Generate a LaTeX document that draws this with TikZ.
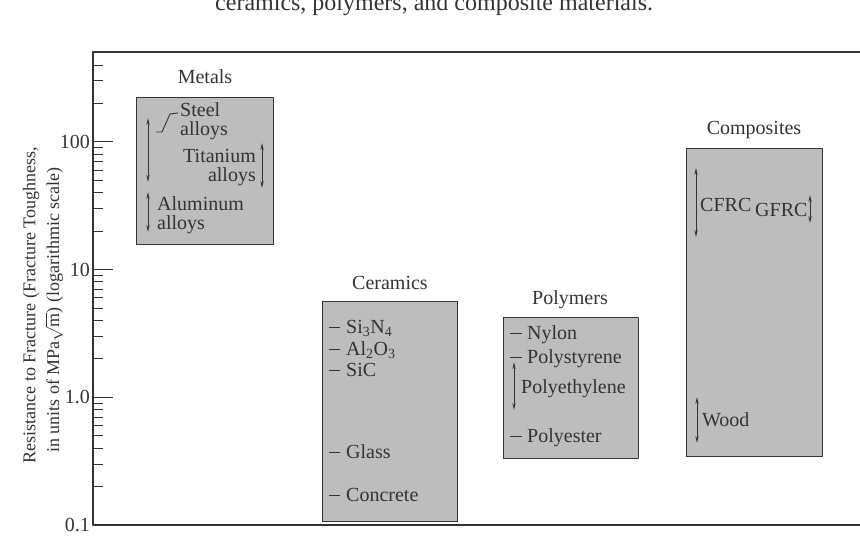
\documentclass[tikz,border=0pt]{standalone}
\usepackage{fontspec}
\setmainfont{Liberation Serif}
\usetikzlibrary{arrows.meta}
\definecolor{ink}{gray}{0.2}
\definecolor{barfill}{gray}{0.74}
\tikzset{
  bar/.style={draw=ink, fill=barfill, line width=1pt},
  grouplabel/.style={text=ink, inner sep=0pt},
  item/.style={text=ink, inner sep=0pt, anchor=base west},
  spanarrow/.style={<->, draw=ink, line width=0.9pt},
  tickline/.style={draw=ink, line width=1pt},
}
\begin{document}
\begin{tikzpicture}[x=1pt, y=-1pt, >={Stealth[length=7pt,width=3.2pt]}, line join=round,
  font=\fontsize{20}{19}\selectfont]
\useasboundingbox (0,0) rectangle (860,536);
\clip (0,0) rectangle (860,536);
\def\xl{93}
\def\yt{52}
\def\yb{525}
\def\dec{127.7}
% caption line, cut by the page edge
\node[text=ink, anchor=base west, inner sep=0pt, font=\fontsize{24}{28}\selectfont] (caption) at (215,10)
  {ceramics, polymers, and composite materials.};
% frame
\draw[ink, line width=1.2pt] (860,\yt) -- (\xl,\yt) -- (\xl,\yb) -- (860,\yb);
% log ticks
\foreach \v/\t [count=\i] in {0.1/0.1, 1/1.0, 10/10, 100/100} {
  \draw[tickline] (\xl,{\yb-\dec*(log10(\v)+1)}) -- ++(20,0);
  \node[text=ink, anchor=east, inner sep=0pt] (ylab\i) at (\xl-3,{\yb-\dec*(log10(\v)+1)}) {\t};
}
\foreach \d in {0.1,1,10}
  \foreach \m in {2,...,9}
    \draw[tickline] (\xl,{\yb-\dec*(log10(\d*\m)+1)}) -- ++(10,0);
\foreach \m in {200,300,400}
  \draw[tickline] (\xl,{\yb-\dec*(log10(\m)+1)}) -- ++(10,0);
% axis title
\node[rotate=90, text=ink, font=\fontsize{18}{20}\selectfont] (ytitle) at (31,305) {Resistance to Fracture (Fracture Toughness,};
\node[rotate=90, text=ink, font=\fontsize{18}{20}\selectfont] (yunits) at (54,310) {in units of MPa$\sqrt{\mathrm{m}}$) (logarithmic scale)};

% bars
\draw[bar] (136,97) rectangle (273,244);
\draw[bar] (322,301) rectangle (457,521);
\draw[bar] (503,317) rectangle (638,458);
\draw[bar] (686,148) rectangle (822,456);
\node[grouplabel] (metals) at (205,77) {Metals};
\node[grouplabel] (ceramics) at (390,283) {Ceramics};
\node[grouplabel] (polymers) at (570,300) {Polymers};
\node[grouplabel] (composites) at (754,130) {Composites};

% metals
\node[item, anchor=west, align=left] (steel) at (180,121) {Steel\\alloys};
\node[item, anchor=east, align=right] (titanium) at (256,168) {Titanium\\alloys};
\node[item, anchor=west, align=left] (aluminum) at (157,215) {Aluminum\\alloys};
\draw[spanarrow] (148,118) -- (148,182);
\draw[spanarrow] (148,192) -- (148,232);
\draw[spanarrow] (262,143) -- (262,188);
\draw[ink, line width=0.9pt] (156,132) -- (162,132) -- (170,114) -- (178,113);

% ceramics
\foreach \name/\txt/\y in {si/Si\textsubscript{3}N\textsubscript{4}/327, al/Al\textsubscript{2}O\textsubscript{3}/349,
    sic/SiC/370, glass/Glass/452, concrete/Concrete/495} {
  \draw[ink, line width=0.9pt] (329,\y) -- (340,\y);
  \node[item] (\name) at (346,\y+6.5) {\txt};
}

% polymers
\foreach \name/\txt/\y in {nylon/Nylon/333, polystyrene/Polystyrene/357, polyester/Polyester/436} {
  \draw[ink, line width=0.9pt] (510,\y) -- (522,\y);
  \node[item] (\name) at (527,\y+6.5) {\txt};
}
\draw[spanarrow] (514,362) -- (514,410);
\node[item] (polyethylene) at (521,393) {Polyethylene};

% composites
\draw[spanarrow] (696,168) -- (696,237);
\node[item] (cfrc) at (700,211.5) {CFRC};
\node[item] (gfrc) at (755,216.5) {GFRC};
\draw[spanarrow] (810,195) -- (810,223);
\draw[spanarrow] (697,397) -- (697,443);
\node[item] (wood) at (702,426) {Wood};
\end{tikzpicture}
\end{document}
